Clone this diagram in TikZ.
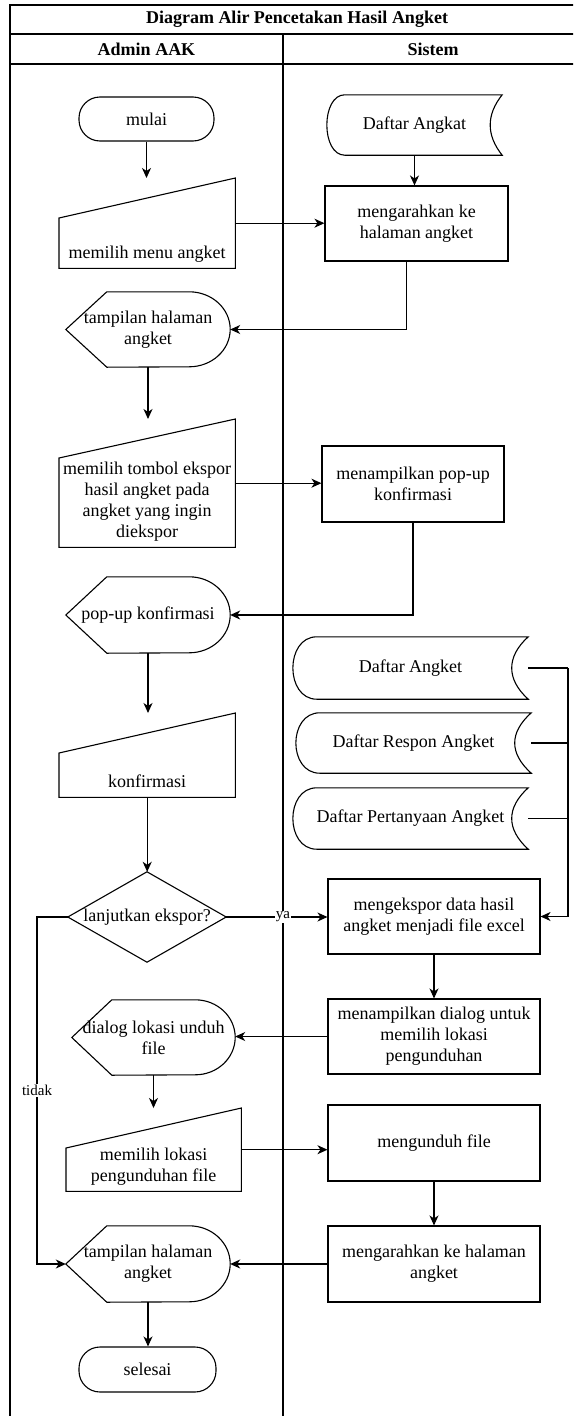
\documentclass[tikz,border=0pt]{standalone}
\usepackage{fontspec}
\setmainfont{Liberation Serif}
\usetikzlibrary{arrows.meta,calc}

% outline of a manual-input shape drawn on a plain node: #1 node, #2 drop of the slanted top
\newcommand\manualshape[2]{%
  \draw[ln] (#1.south west) -- ($(#1.north west)+(0,#2)$) -- (#1.north east)
    -- (#1.south east) -- cycle;}
% outline of a display shape: #1 node, #2 point depth, #3 half height
\newcommand\dispshape[3]{%
  \draw[ln] (#1.west) -- ($(#1.north west)+(#2,0)$) -- ($(#1.north east)-(#2,0)$)
    arc[start angle=90,end angle=-90,x radius=#2pt,y radius=#3pt]
    -- ($(#1.south west)+(#2,0)$) -- cycle;}
% outline of a stored-data shape: #1 node, #2 left bulge, #3 right hollow control
\newcommand\storedshape[3]{%
  \draw[ln] ($(#1.north west)+(#2,0)$) -- (#1.north east)
    .. controls +(-#3,20) and +(-#3,-20) .. (#1.south east)
    -- ($(#1.south west)+(#2,0)$)
    .. controls +(-1.33*#2,0) and +(-1.33*#2,0) .. ($(#1.north west)+(#2,0)$) -- cycle;}

\begin{document}
\begin{tikzpicture}[x=1pt,y=-1pt,
  ln/.style={line width=1.1pt, draw=black},
  arr/.style={ln, -{Stealth[length=10pt,width=9pt,inset=3pt]}},
  txt/.style={font=\fontsize{18}{21}\selectfont, align=center, text=black},
  shp/.style={txt, inner sep=0pt},
  rectbox/.style={txt, draw, line width=1.1pt, inner sep=0pt},
  term/.style={rectbox, rounded corners=21pt},
  edgelbl/.style={font=\fontsize{15}{17}\selectfont, fill=white, inner sep=1pt},
  head/.style={font=\fontsize{18}{21}\selectfont\bfseries},
]
\useasboundingbox (0,0) rectangle (573,1416);
\clip (0,0) rectangle (573,1416);

% swimlane frame
\draw[ln] (590,5) -- (10,5) -- (10,1430);
\draw[ln] (10,34) -- (590,34);
\draw[ln] (10,64) -- (590,64);
\draw[ln] (283,34) -- (283,1430);
\node[head] (title) at (297,19.5) {Diagram Alir Pencetakan Hasil Angket};
\node[head] (laneA) at (146.5,49) {Admin AAK};
\node[head] (laneS) at (433,49) {Sistem};

% ---- Admin AAK lane
\node[term, minimum width=135pt, minimum height=44pt] (start) at (146.5,119) {mulai};

\node[shp, anchor=north west, minimum width=176pt, minimum height=90pt] (m1) at (59,178) {};
\manualshape{m1}{40}
\node[shp, anchor=south] (m1t) at ($(m1.south)+(0,-3)$) {memilih menu angket\strut};

\node[shp, minimum width=164pt, minimum height=75pt] (D1) at (148,329.5) {tampilan halaman\\angket};
\dispshape{D1}{41}{37.5}

\node[shp, anchor=north west, minimum width=176pt, minimum height=128pt] (m2) at (59,419) {};
\manualshape{m2}{39}
\node[shp, anchor=south] (m2t) at ($(m2.south)+(0,-3)$)
  {memilih tombol ekspor\\hasil angket pada\\angket yang ingin\\diekspor\strut};

\node[shp, minimum width=164pt, minimum height=76pt] (D2) at (148,615) {pop-up konfirmasi};
\dispshape{D2}{41}{38}

\node[shp, anchor=north west, minimum width=176pt, minimum height=84pt] (m3) at (59,713) {};
\manualshape{m3}{40}
\node[shp, anchor=south] (m3t) at ($(m3.south)+(0,-3)$) {konfirmasi\strut};

\node[shp, minimum width=158pt, minimum height=90pt] (dia) at (147,917) {};
\draw[ln] (dia.north) -- (dia.east) -- (dia.south) -- (dia.west) -- cycle;
\node[shp] (diat) at (dia.center) {lanjutkan ekspor?};

\node[shp, minimum width=163pt, minimum height=75pt] (D3) at (153.5,1037.5) {dialog lokasi unduh\\file};
\dispshape{D3}{40}{37.5}

\node[shp, anchor=north west, minimum width=175pt, minimum height=83pt] (m4) at (66,1108) {};
\manualshape{m4}{40}
\node[shp, anchor=south] (m4t) at ($(m4.south)+(0,-3)$) {memilih lokasi\\pengunduhan file\strut};

\node[shp, minimum width=164pt, minimum height=76pt] (D4) at (148,1264) {tampilan halaman\\angket};
\dispshape{D4}{41}{38}

\node[term, minimum width=137pt, minimum height=45pt] (stop) at (147.5,1369.5) {selesai};

% ---- Sistem lane
\node[shp, minimum width=175pt, minimum height=60pt] (DA) at (414.5,125) {Daftar Angkat};
\storedshape{DA}{18}{16}

\node[rectbox, minimum width=183pt, minimum height=75pt] (S1) at (416.5,223.5) {mengarahkan ke\\halaman angket};
\node[rectbox, minimum width=182pt, minimum height=76pt] (S2) at (413,484) {menampilkan pop-up\\konfirmasi};

\node[shp, minimum width=235pt, minimum height=62pt] (DSa) at (410.5,668) {Daftar Angket};
\storedshape{DSa}{24}{22}
\node[shp, minimum width=235pt, minimum height=60pt] (DSb) at (413.5,743) {Daftar Respon Angket};
\storedshape{DSb}{24}{22}
\node[shp, minimum width=235pt, minimum height=61pt] (DSc) at (410.5,818.5) {Daftar Pertanyaan Angket};
\storedshape{DSc}{24}{22}

\node[rectbox, minimum width=212pt, minimum height=75pt] (S3) at (434,916.5) {mengekspor data hasil\\angket menjadi file excel};
\node[rectbox, minimum width=212pt, minimum height=75pt] (S4) at (434,1036.5) {menampilkan dialog untuk\\memilih lokasi\\pengunduhan};
\node[rectbox, minimum width=212pt, minimum height=76pt] (S5) at (434,1143) {mengunduh file};
\node[rectbox, minimum width=212pt, minimum height=76pt] (S6) at (434,1264) {mengarahkan ke halaman\\angket};

% ---- connectors
\draw[arr] (start.south) -- (start.south |- m1.north);
\draw[arr] (m1.east) -- (m1.east -| S1.west);
\draw[arr] (DA.south) -- (DA.south |- S1.north);
\draw[arr] ($(S1.south)+(-10,0)$) |- (D1.east);
\draw[arr] (D1.south) -- (D1.south |- m2.north);
\draw[arr] (m2.east) -- (m2.east -| S2.west);
\draw[arr] (S2.south) |- (D2.east);
\draw[arr] (D2.south) -- (D2.south |- m3.north);
\draw[arr] (m3.south) -- (m3.south |- dia.north);
\draw[arr] (dia.east) -- node[edgelbl, pos=0.56] (ya) {ya} (dia.east -| S3.west);
\coordinate (bus) at (568,668);
\draw[ln] (DSa.east) -- (bus);
\draw[ln] (DSb.east) -- (DSb.east -| bus);
\draw[ln] (DSc.east) -- (DSc.east -| bus);
\draw[arr] (bus) |- (S3.east);
\coordinate (notk) at (37,917);
\draw[arr] (dia.west) -- (notk) |- node[edgelbl, pos=0.25] (tidak) {tidak} (D4.west);
\draw[arr] (S3.south) -- (S4.north);
\draw[arr] (S4.west) -- (S4.west -| D3.east);
\draw[arr] (D3.south) -- (D3.south |- m4.north);
\draw[arr] (m4.east) -- (m4.east -| S5.west);
\draw[arr] (S5.south) -- (S6.north);
\draw[arr] (S6.west) -- (S6.west -| D4.east);
\draw[arr] (D4.south) -- (D4.south |- stop.north);
\end{tikzpicture}
\end{document}
